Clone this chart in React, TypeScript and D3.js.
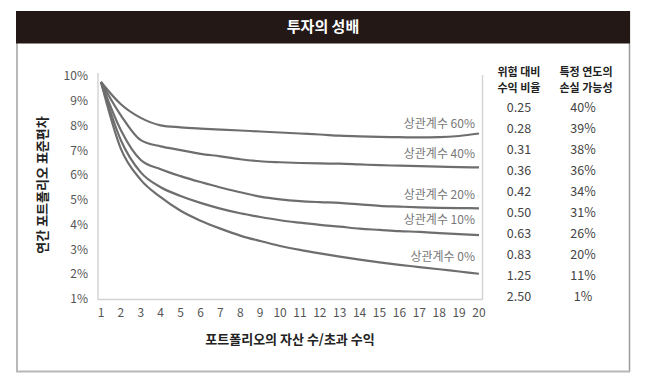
import React from "react";
import * as d3 from "d3";

const assetCounts = d3.range(1, 21);
const seriesNames = ["상관계수 60%", "상관계수 40%", "상관계수 20%", "상관계수 10%", "상관계수 0%"];
const corr60 = [9.8, 8.9, 8.35, 8.05, 7.97, 7.92, 7.88, 7.84, 7.8, 7.76, 7.72, 7.68, 7.63, 7.6, 7.58, 7.57, 7.56, 7.57, 7.62, 7.72];
const corr40 = [9.8, 8.45, 7.45, 7.2, 7.05, 6.9, 6.8, 6.68, 6.6, 6.56, 6.53, 6.51, 6.5, 6.47, 6.44, 6.42, 6.4, 6.38, 6.36, 6.35];
const corr20 = [9.8, 7.85, 6.65, 6.28, 6.0, 5.76, 5.54, 5.35, 5.17, 5.06, 4.99, 4.95, 4.92, 4.86, 4.8, 4.77, 4.74, 4.72, 4.71, 4.7];
const corr10 = [9.8, 7.45, 6.15, 5.55, 5.2, 4.92, 4.69, 4.5, 4.35, 4.22, 4.12, 4.03, 3.96, 3.88, 3.83, 3.78, 3.75, 3.7, 3.66, 3.62];
const corr0 = [9.8, 7.1, 5.85, 5.15, 4.6, 4.2, 3.88, 3.6, 3.38, 3.18, 3.02, 2.88, 2.75, 2.63, 2.52, 2.42, 2.33, 2.24, 2.15, 2.06];
const seriesValues = [corr60, corr40, corr20, corr10, corr0];
const yTicks = [1, 2, 3, 4, 5, 6, 7, 8, 9, 10];
const tableHeaders = [["위험 대비", "수익 비율"], ["특정 연도의", "손실 가능성"]];
const ratioValues = ["0.25", "0.28", "0.31", "0.36", "0.42", "0.50", "0.63", "0.83", "1.25", "2.50"];
const lossValues = ["40%", "39%", "38%", "36%", "34%", "31%", "26%", "20%", "11%", "1%"];

const FONT = "'Noto Sans CJK KR', 'Noto Sans', sans-serif";

export default function App() {
  const W = 650, H = 383;
  const x = d3.scaleLinear().domain([1, 20]).range([101, 479]);
  const y = d3.scaleLinear().domain([1, 10]).range([300, 77]);
  const line = d3.line<number>()
    .x((_, i) => x(assetCounts[i]))
    .y((d) => y(d))
    .curve(d3.curveMonotoneX);
  const rowY = d3.scaleLinear().domain([0, 9]).range([109, 297.7]);
  const headerX = [519, 586];

  return (
    <svg width={W} height={H} style={{ position: "absolute", left: 0, top: 0, background: "#fff" }} fontFamily={FONT}>
      <rect x={0} y={0} width={W} height={H} fill="#fff" />
      {/* frame */}
      <line x1={17} x2={17} y1={11} y2={372} stroke="#b8b8b8" strokeWidth={2} />
      <line x1={629.5} x2={629.5} y1={11} y2={372} stroke="#9a9a9a" strokeWidth={1.5} />
      <line x1={16} x2={630} y1={371.5} y2={371.5} stroke="#b8b8b8" strokeWidth={2} />
      <rect x={16} y={11} width={614} height={32.5} fill="#231815" />
      <text x={323} y={27.5} fill="#fff" fontSize={15} fontWeight={700} textAnchor="middle" dominantBaseline="middle">투자의 성배</text>

      {/* axes */}
      <line x1={98} x2={98} y1={73} y2={300} stroke="#d4d4d4" strokeWidth={1.5} />
      <line x1={98} x2={482.5} y1={299.5} y2={299.5} stroke="#d4d4d4" strokeWidth={1.5} />
      <line x1={482.5} x2={482.5} y1={75} y2={300} stroke="#d4d4d4" strokeWidth={1.5} />

      {yTicks.map((t) => (
        <text key={t} x={88} y={y(t)} fontSize={12} fill="#555" textAnchor="end" dominantBaseline="middle">{t}%</text>
      ))}
      {assetCounts.map((n) => (
        <text key={n} x={x(n)} y={314} fontSize={12} fill="#555" textAnchor="middle" dominantBaseline="middle">{n}</text>
      ))}

      {seriesValues.map((vals, i) => (
        <g key={i}>
          <path d={line(vals) || ""} fill="none" stroke="#6e6e6e" strokeWidth={2.2} strokeLinejoin="round" />
          <text x={475} y={y(vals[17]) - 12} fontSize={12} fill="#777" textAnchor="end" dominantBaseline="middle">{seriesNames[i]}</text>
        </g>
      ))}

      <text x={290} y={340} fontSize={13} fontWeight={700} fill="#222" textAnchor="middle" dominantBaseline="middle">포트폴리오의 자산 수/초과 수익</text>
      <text transform="translate(43,185) rotate(-90)" fontSize={13} fontWeight={700} fill="#222" textAnchor="middle" dominantBaseline="middle">연간 포트폴리오 표준편차</text>

      {/* table */}
      {tableHeaders.map((lines, c) => (
        <g key={"h" + c}>
          <text x={headerX[c]} y={73} fontSize={11} fontWeight={700} fill="#222" textAnchor="middle" dominantBaseline="middle">{lines[0]}</text>
          <text x={headerX[c]} y={89} fontSize={11} fontWeight={700} fill="#222" textAnchor="middle" dominantBaseline="middle">{lines[1]}</text>
        </g>
      ))}
      {ratioValues.map((v, i) => (
        <text key={"r" + i} x={519} y={rowY(i)} fontSize={12.5} fill="#444" textAnchor="middle" dominantBaseline="middle">{v}</text>
      ))}
      {lossValues.map((v, i) => (
        <text key={"l" + i} x={583} y={rowY(i)} fontSize={12.5} fill="#444" textAnchor="middle" dominantBaseline="middle">{v}</text>
      ))}
    </svg>
  );
}
